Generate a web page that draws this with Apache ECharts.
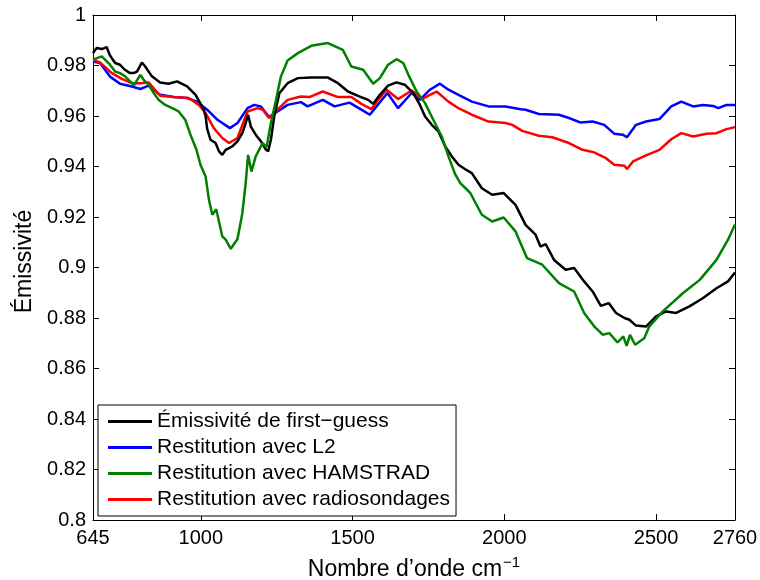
<!DOCTYPE html>
<html>
<head>
<meta charset="utf-8">
<script src="https://cdn.jsdelivr.net/npm/echarts@6/dist/echarts.min.js"></script>
<style>
  html, body { margin: 0; padding: 0; background: #fff; }
  #chart { width: 760px; height: 580px; }
</style>
</head>
<body>
<div id="chart"></div>
<script>
// wavenumber ticks (cm-1)
const xTicks = [645, 1000, 1500, 2000, 2500, 2760]

const seriesNames = [
    "Émissivité de first\u2212guess",
    "Restitution avec L2",
    "Restitution avec HAMSTRAD",
    "Restitution avec radiosondages",
]

// first-guess (black)
const guessWn = [645, 657, 674, 690, 700, 707, 718, 734, 750, 767, 778, 790, 806, 817, 839, 866, 894, 922, 955, 983, 1010, 1016, 1021, 1032, 1049, 1060, 1071, 1082, 1104, 1121, 1137, 1148, 1156, 1165, 1181, 1198, 1215, 1222, 1231, 1242, 1259, 1286, 1320, 1364, 1419, 1452, 1485, 1518, 1551, 1568, 1590, 1617, 1645, 1672, 1700, 1722, 1739, 1761, 1783, 1805, 1827, 1849, 1870, 1893, 1926, 1960, 1998, 2037, 2070, 2103, 2119, 2136, 2164, 2202, 2230, 2263, 2291, 2318, 2344, 2368, 2396, 2412, 2434, 2467, 2500, 2533, 2566, 2610, 2655, 2699, 2737, 2760]
const guessVal = [0.9849, 0.9869, 0.9865, 0.9873, 0.9842, 0.9829, 0.981, 0.9803, 0.9783, 0.977, 0.977, 0.9776, 0.9812, 0.9796, 0.9757, 0.9733, 0.9728, 0.9737, 0.9717, 0.9684, 0.9625, 0.9598, 0.955, 0.9506, 0.9493, 0.946, 0.9446, 0.9466, 0.948, 0.950, 0.9532, 0.9572, 0.9605, 0.9558, 0.9526, 0.950, 0.9466, 0.946, 0.9506, 0.9598, 0.969, 0.973, 0.975, 0.9752, 0.9752, 0.973, 0.9697, 0.968, 0.9664, 0.9648, 0.9684, 0.972, 0.9733, 0.9724, 0.9691, 0.9644, 0.9598, 0.9565, 0.9539, 0.948, 0.944, 0.9407, 0.939, 0.9374, 0.9314, 0.9288, 0.9295, 0.9248, 0.9169, 0.913, 0.9083, 0.9093, 0.903, 0.8991, 0.8998, 0.8945, 0.8905, 0.8848, 0.8859, 0.882, 0.88, 0.8793, 0.877, 0.8766, 0.8806, 0.8826, 0.882, 0.8846, 0.8879, 0.8918, 0.8945, 0.898]

// L2 (blue)
const l2Wn = [645, 668, 701, 734, 773, 801, 828, 866, 911, 955, 988, 1021, 1055, 1096, 1121, 1154, 1176, 1198, 1225, 1253, 1286, 1330, 1352, 1402, 1441, 1490, 1529, 1557, 1579, 1615, 1650, 1695, 1722, 1755, 1788, 1816, 1849, 1893, 1948, 2004, 2054, 2070, 2114, 2180, 2213, 2252, 2291, 2329, 2362, 2390, 2404, 2434, 2467, 2511, 2550, 2583, 2622, 2655, 2688, 2705, 2732, 2760]
const l2Val = [0.9816, 0.981, 0.9756, 0.9728, 0.9717, 0.9707, 0.972, 0.9684, 0.9675, 0.9671, 0.9657, 0.9625, 0.9585, 0.9552, 0.9572, 0.9631, 0.9644, 0.9638, 0.9596, 0.9618, 0.9644, 0.9655, 0.9638, 0.9664, 0.9638, 0.9653, 0.9625, 0.9605, 0.9638, 0.9691, 0.9631, 0.9691, 0.9664, 0.9704, 0.9728, 0.9704, 0.9684, 0.9657, 0.9638, 0.9638, 0.9627, 0.9625, 0.9608, 0.9605, 0.9592, 0.9574, 0.9578, 0.9565, 0.953, 0.9526, 0.9516, 0.9565, 0.9578, 0.9588, 0.9638, 0.9657, 0.9638, 0.9644, 0.964, 0.9631, 0.9644, 0.9644]

// HAMSTRAD (green)
const hamWn = [645, 674, 701, 718, 734, 751, 767, 780, 801, 812, 828, 845, 861, 883, 906, 927, 949, 966, 986, 999, 1016, 1027, 1038, 1051, 1071, 1082, 1099, 1121, 1137, 1148, 1156, 1167, 1181, 1204, 1217, 1231, 1248, 1264, 1286, 1320, 1364, 1419, 1468, 1496, 1535, 1568, 1590, 1617, 1645, 1667, 1684, 1711, 1739, 1766, 1794, 1816, 1838, 1855, 1888, 1926, 1960, 1998, 2037, 2075, 2125, 2180, 2230, 2263, 2296, 2324, 2346, 2373, 2392, 2403, 2414, 2431, 2461, 2478, 2522, 2589, 2644, 2699, 2737, 2760]
const hamVal = [0.9823, 0.9836, 0.9803, 0.9776, 0.977, 0.9757, 0.9737, 0.9722, 0.9763, 0.9743, 0.9724, 0.9691, 0.9664, 0.9644, 0.9631, 0.9618, 0.9585, 0.9526, 0.9466, 0.9407, 0.936, 0.9268, 0.9209, 0.9231, 0.9123, 0.911, 0.9074, 0.9113, 0.9215, 0.9334, 0.9446, 0.938, 0.944, 0.9493, 0.9477, 0.9572, 0.9664, 0.9756, 0.982, 0.9849, 0.9878, 0.9889, 0.9862, 0.9796, 0.9783, 0.9728, 0.975, 0.9803, 0.9825, 0.981, 0.9763, 0.9697, 0.9651, 0.9585, 0.9519, 0.944, 0.937, 0.9334, 0.9295, 0.9209, 0.9182, 0.9198, 0.9143, 0.9037, 0.9011, 0.8938, 0.8905, 0.882, 0.8767, 0.8734, 0.874, 0.8703, 0.8727, 0.869, 0.8733, 0.8694, 0.872, 0.8767, 0.8826, 0.8899, 0.8951, 0.903, 0.911, 0.917]

// radiosondages (red)
const radioWn = [645, 668, 707, 740, 773, 801, 828, 866, 911, 960, 994, 1016, 1043, 1071, 1093, 1121, 1154, 1187, 1204, 1225, 1253, 1286, 1330, 1358, 1402, 1452, 1496, 1529, 1562, 1584, 1612, 1650, 1695, 1729, 1755, 1777, 1816, 1849, 1893, 1948, 2004, 2026, 2059, 2114, 2158, 2213, 2258, 2296, 2335, 2362, 2396, 2404, 2424, 2467, 2511, 2550, 2583, 2622, 2666, 2699, 2732, 2760]
const radioVal = [0.9823, 0.9812, 0.977, 0.9747, 0.973, 0.973, 0.9733, 0.968, 0.9675, 0.9671, 0.9644, 0.9612, 0.9552, 0.9513, 0.9493, 0.9513, 0.9618, 0.9631, 0.9625, 0.9592, 0.9625, 0.9664, 0.9677, 0.9675, 0.9697, 0.9675, 0.9675, 0.9648, 0.9627, 0.9664, 0.9704, 0.9667, 0.9701, 0.9667, 0.9684, 0.9697, 0.9657, 0.9631, 0.9605, 0.9578, 0.9572, 0.9565, 0.9541, 0.9522, 0.9516, 0.9493, 0.9466, 0.9456, 0.9433, 0.9407, 0.9403, 0.939, 0.942, 0.9444, 0.9466, 0.9508, 0.9532, 0.9519, 0.953, 0.9532, 0.9548, 0.9556]

const colors = ["#000000", "#0000ff", "#008000", "#ff0000"]
const font = "'Liberation Sans', Arial, Helvetica, sans-serif"

function pairs(xs, ys) {
    let out = []
    for (let i = 0; i < xs.length; i++) out.push([xs[i], ys[i]])
    return out
}

const lines = [
    pairs(guessWn, guessVal),
    pairs(l2Wn, l2Val),
    pairs(hamWn, hamVal),
    pairs(radioWn, radioVal),
]

let chart = echarts.init(document.getElementById("chart"), null, { renderer: "canvas" })

let series = []
for (let i = 0; i < lines.length; i++) {
    series.push({
        name: seriesNames[i],
        type: "line",
        data: lines[i],
        symbol: "none",
        showSymbol: false,
        xAxisIndex: 0,
        yAxisIndex: 0,
        lineStyle: { color: colors[i], width: 2.5 },
        itemStyle: { color: colors[i] },
    })
}
// draw order: radiosondages over L2, first-guess and HAMSTRAD on top
series[0].z = 4
series[1].z = 2
series[2].z = 5
series[3].z = 3

const tickStyle = { show: true, inside: true, length: 6, lineStyle: { color: "#000", width: 1 } }

chart.setOption({
    animation: false,
    textStyle: { fontFamily: font },
    grid: { left: 93, right: 25, top: 15, bottom: 60, outerBoundsMode: "none", containLabel: false },
    legend: {
        orient: "vertical",
        left: 98,
        top: 405,
        padding: [5, 6, 5, 10],
        borderColor: "#000",
        borderWidth: 1,
        backgroundColor: "#fff",
        icon: "rect",
        itemWidth: 44,
        itemHeight: 3,
        itemGap: 3,
        selectedMode: false,
        textStyle: { fontSize: 21, color: "#000", fontFamily: font, lineHeight: 23 },
        data: seriesNames,
    },
    xAxis: [{
        type: "value",
        min: 645,
        max: 2760,
        position: "bottom",
        name: "Nombre d\u2019onde cm{sup|\u22121}",
        nameLocation: "middle",
        nameGap: 35,
        nameTextStyle: {
            fontSize: 23, color: "#000", fontFamily: font,
            rich: { sup: { fontSize: 15, color: "#000", fontFamily: font, padding: [0, 0, 15, 1] } },
        },
        axisLine: { onZero: false, lineStyle: { color: "#000", width: 1 } },
        axisTick: Object.assign({ customValues: xTicks }, tickStyle),
        axisLabel: {
            customValues: xTicks, fontSize: 20, color: "#000", margin: 8, fontFamily: font,
            formatter: (v) => String(v),
        },
        splitLine: { show: false },
    }, {
        type: "value",
        min: 645,
        max: 2760,
        position: "top",
        axisLine: { onZero: false, lineStyle: { color: "#000", width: 1 } },
        axisTick: Object.assign({ customValues: xTicks }, tickStyle),
        axisLabel: { show: false },
        splitLine: { show: false },
    }],
    yAxis: [{
        type: "value",
        min: 0.8,
        max: 1,
        interval: 0.02,
        position: "left",
        name: "Émissivité",
        nameLocation: "middle",
        nameGap: 56,
        nameTextStyle: { fontSize: 23, color: "#000", fontFamily: font, padding: [0, 0, 0, 12] },
        axisLine: { show: true, onZero: false, lineStyle: { color: "#000", width: 1 } },
        axisTick: tickStyle,
        axisLabel: { fontSize: 20, color: "#000", margin: 7, fontFamily: font },
        splitLine: { show: false },
    }, {
        type: "value",
        min: 0.8,
        max: 1,
        interval: 0.02,
        position: "right",
        axisLine: { show: true, onZero: false, lineStyle: { color: "#000", width: 1 } },
        axisTick: tickStyle,
        axisLabel: { show: false },
        splitLine: { show: false },
    }],
    series: series,
})
</script>
</body>
</html>
